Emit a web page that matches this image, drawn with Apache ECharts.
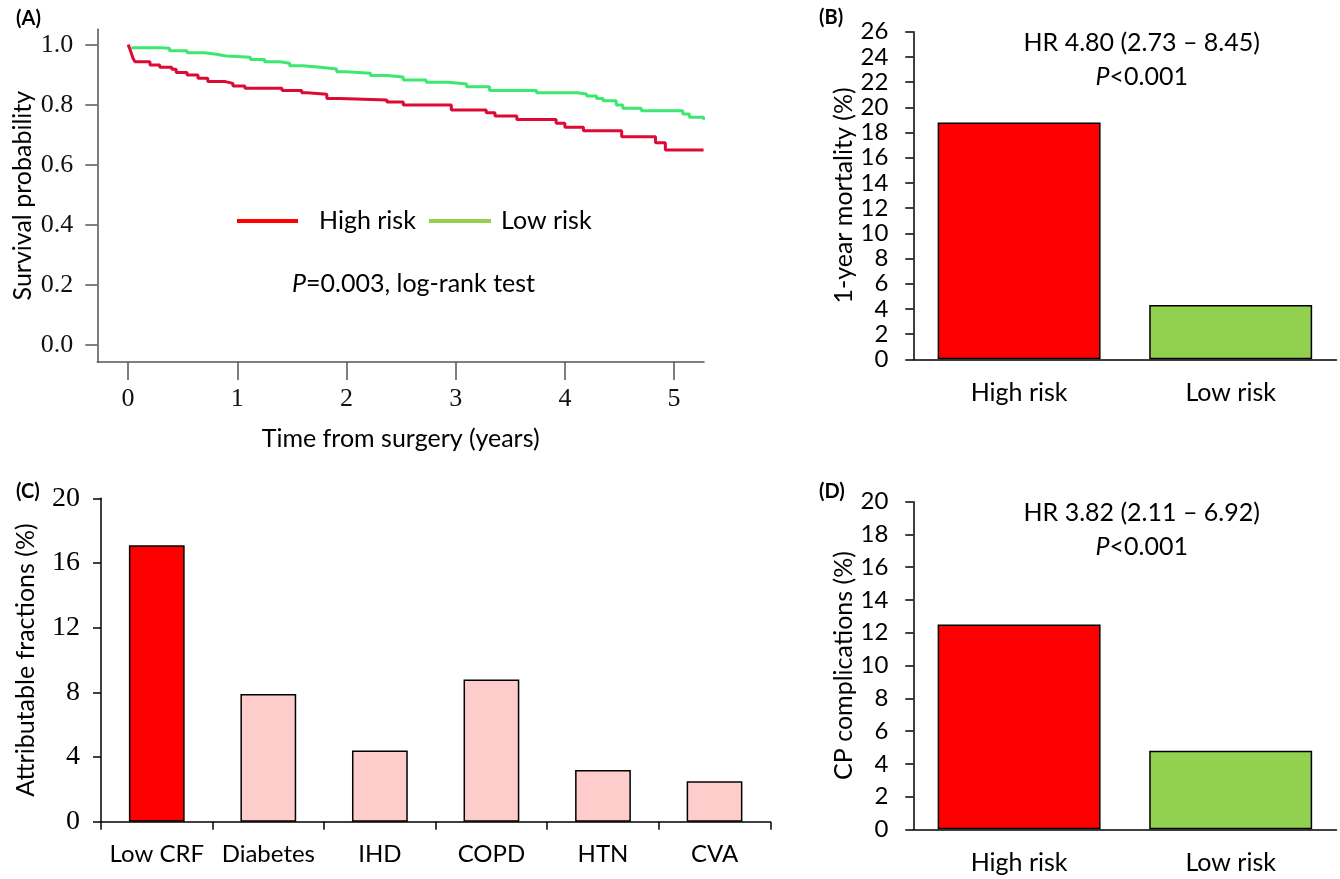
<!DOCTYPE html>
<html><head><meta charset="utf-8">
<script src="https://cdn.jsdelivr.net/npm/echarts@6/dist/echarts.min.js"></script>
<style>html,body{margin:0;padding:0;background:#fff}#c{width:1340px;height:879px}</style>
</head><body><div id="c"></div>
<script>
// ---- Panel A: Kaplan-Meier curves (time in years, survival probability) ----
const kmHighTime = [0, 0.017, 0.031, 0.045, 0.063, 0.20, 0.29, 0.40, 0.44, 0.54, 0.64, 0.73, 0.89, 0.96, 1.07, 1.41, 1.59, 1.64, 1.82, 1.94, 2.37, 2.52, 2.96, 3.28, 3.36, 3.56, 3.92, 4.00, 4.17, 4.52, 4.83, 4.92, 5.27];
const kmHighSurv = [1.0, 0.985, 0.970, 0.955, 0.943, 0.932, 0.925, 0.918, 0.907, 0.899, 0.888, 0.877, 0.871, 0.862, 0.855, 0.847, 0.840, 0.835, 0.821, 0.816, 0.809, 0.799, 0.782, 0.773, 0.762, 0.751, 0.738, 0.725, 0.713, 0.693, 0.673, 0.649, 0.649];
const kmLowTime = [0.03, 0.29, 0.38, 0.54, 0.70, 0.81, 0.90, 1.12, 1.25, 1.39, 1.48, 1.60, 1.76, 1.91, 2.00, 2.22, 2.37, 2.52, 2.73, 2.93, 3.10, 3.31, 3.74, 4.11, 4.20, 4.29, 4.35, 4.47, 4.53, 4.70, 5.08, 5.14, 5.27];
const kmLowSurv = [0.990, 0.988, 0.980, 0.973, 0.968, 0.962, 0.958, 0.951, 0.943, 0.938, 0.930, 0.925, 0.919, 0.910, 0.905, 0.897, 0.892, 0.882, 0.875, 0.869, 0.860, 0.847, 0.840, 0.836, 0.829, 0.821, 0.813, 0.799, 0.788, 0.780, 0.769, 0.758, 0.750];
const kmXTicks = [0, 1, 2, 3, 4, 5];
const kmYTicks = [0, 0.2, 0.4, 0.6, 0.8, 1.0];

// ---- Panels B & D ----
const riskGroups = ['High risk', 'Low risk'];
const mortality1y = [18.8, 4.3];
const cpComplications = [12.5, 4.8];

// ---- Panel C ----
const afCategories = ['Low CRF', 'Diabetes', 'IHD', 'COPD', 'HTN', 'CVA'];
const afValues = [17.1, 7.9, 4.4, 8.8, 3.2, 2.5];

const riskColors = ['#ff0000', '#92d050'];
const afColors = ['#ff0000', '#ffcccc', '#ffcccc', '#ffcccc', '#ffcccc', '#ffcccc'];

const SANS = 'Lato';
const SERIF = 'Liberation Serif';
const axisBlack = { show: true, onZero: false, lineStyle: { color: '#000', width: 1.5 } };
const tickBlack = { show: true, length: 8, lineStyle: { color: '#000', width: 1.5 } };

function barAxisY(grid, max, interval, name) {
  return {
    gridIndex: grid, type: 'value', min: 0, max: max, interval: interval,
    axisLine: axisBlack, axisTick: tickBlack, splitLine: { show: false },
    axisLabel: { fontFamily: SANS, fontSize: 24, color: '#000', margin: 25 },
    name: name, nameLocation: 'middle', nameGap: 57,
    nameTextStyle: { fontFamily: SANS, fontSize: 25, color: '#000' }
  };
}
function barAxisX(grid, cats) {
  return {
    gridIndex: grid, type: 'category', data: cats,
    axisLine: axisBlack, axisTick: { show: false },
    axisLabel: { interval: 0, fontFamily: SANS, fontSize: 25, color: '#000', margin: 21 }
  };
}
function hrText(x, y, hr, p) {
  return [
    { type: 'text', x: x, y: y, style: { text: hr, font: '25px Lato', fill: '#000', align: 'center', verticalAlign: 'middle' } },
    { type: 'text', x: x, y: y + 33.4, style: { text: '{i|P}' + p, font: '25px Lato', fill: '#000', align: 'center', verticalAlign: 'middle',
      rich: { i: { fontStyle: 'italic', fontFamily: SANS, fontSize: 25, fill: '#000' } } } }
  ];
}
function panelLabel(x, y, t) {
  return { type: 'text', x: x, y: y, style: { text: t, font: 'bold 20px Lato', fill: '#000', verticalAlign: 'middle' } };
}

const chart = echarts.init(document.getElementById('c'), null, { renderer: 'canvas' });
chart.setOption({
  animation: false,
  backgroundColor: '#fff',
  grid: [
    { left: 97.3, top: 29.3, width: 606.7, height: 332.7 },
    { left: 913.3, top: 31.7, width: 423.2, height: 327.6 },
    { left: 101, top: 498.3, width: 669.3, height: 323.4 },
    { left: 913.3, top: 501.7, width: 423.2, height: 327.6 }
  ],
  legend: [
    { data: [{ name: 'High risk', itemStyle: { color: '#ff0000' } }], left: 237, top: 206, padding: 0, icon: 'rect', itemWidth: 61, itemHeight: 4,
      textStyle: { fontFamily: SANS, fontSize: 25, color: '#000', lineHeight: 30, padding: [0, 0, 0, 16] }, selectedMode: false },
    { data: [{ name: 'Low risk', itemStyle: { color: '#92d050' } }], left: 429, top: 206, padding: 0, icon: 'rect', itemWidth: 62, itemHeight: 4,
      textStyle: { fontFamily: SANS, fontSize: 25, color: '#000', lineHeight: 30, padding: [0, 0, 0, 5] }, selectedMode: false }
  ],
  xAxis: [
    { gridIndex: 0, type: 'value', min: -0.282, max: 5.274,
      axisLine: { show: true, onZero: false, lineStyle: { color: '#555', width: 1.5 } },
      axisTick: { show: true, customValues: kmXTicks, length: 18, lineStyle: { color: '#555', width: 1.5 } },
      axisLabel: { customValues: kmXTicks, fontFamily: SERIF, fontSize: 26, color: '#111', margin: 24 },
      splitLine: { show: false },
      name: 'Time from surgery (years)', nameLocation: 'middle', nameGap: 64,
      nameTextStyle: { fontFamily: SANS, fontSize: 25, color: '#000' } },
    barAxisX(1, riskGroups),
    { gridIndex: 2, type: 'category', data: afCategories,
      axisLine: axisBlack, axisTick: { show: true, interval: 0, length: 8, lineStyle: { color: '#000', width: 1.5 } },
      axisLabel: { interval: 0, fontFamily: SANS, fontSize: 24, color: '#000', margin: 21 } },
    barAxisX(3, riskGroups)
  ],
  yAxis: [
    { gridIndex: 0, type: 'value', min: -0.0577, max: 1.0513,
      axisLine: { show: true, onZero: false, lineStyle: { color: '#555', width: 1.5 } },
      axisTick: { show: true, customValues: kmYTicks, length: 12, lineStyle: { color: '#555', width: 1.5 } },
      axisLabel: { customValues: kmYTicks, formatter: v => v.toFixed(1), fontFamily: SERIF, fontSize: 26, color: '#111', margin: 24 },
      splitLine: { show: false },
      name: 'Survival probability', nameLocation: 'middle', nameGap: 62,
      nameTextStyle: { fontFamily: SANS, fontSize: 25, color: '#000' } },
    barAxisY(1, 26, 2, '1-year mortality (%)'),
    { gridIndex: 2, type: 'value', min: 0, max: 20, interval: 4,
      axisLine: axisBlack, axisTick: tickBlack, splitLine: { show: false },
      axisLabel: { fontFamily: SERIF, fontSize: 28, color: '#000', margin: 21 },
      name: 'Attributable fractions (%)', nameLocation: 'middle', nameGap: 63,
      nameTextStyle: { fontFamily: SANS, fontSize: 25, color: '#000' } },
    barAxisY(3, 20, 2, 'CP complications (%)')
  ],
  series: [
    { name: 'Low risk', type: 'line', xAxisIndex: 0, yAxisIndex: 0, step: 'end', symbol: 'none',
      lineStyle: { color: '#3de870', width: 3 }, itemStyle: { color: '#3de870' },
      data: kmLowTime.map((t, i) => [t, kmLowSurv[i]]) },
    { name: 'High risk', type: 'line', xAxisIndex: 0, yAxisIndex: 0, step: 'end', symbol: 'none',
      lineStyle: { color: '#dc0a34', width: 3 }, itemStyle: { color: '#dc0a34' },
      data: kmHighTime.map((t, i) => [t, kmHighSurv[i]]) },
    { name: 'mortality', type: 'bar', xAxisIndex: 1, yAxisIndex: 1, barCategoryGap: '23%',
      itemStyle: { borderColor: '#000', borderWidth: 1.5 },
      data: mortality1y.map((v, i) => ({ value: v, itemStyle: { color: riskColors[i] } })) },
    { name: 'af', type: 'bar', xAxisIndex: 2, yAxisIndex: 2, barCategoryGap: '50%',
      itemStyle: { borderColor: '#000', borderWidth: 1.5 },
      data: afValues.map((v, i) => ({ value: v, itemStyle: { color: afColors[i] } })) },
    { name: 'cp', type: 'bar', xAxisIndex: 3, yAxisIndex: 3, barCategoryGap: '23%',
      itemStyle: { borderColor: '#000', borderWidth: 1.5 },
      data: cpComplications.map((v, i) => ({ value: v, itemStyle: { color: riskColors[i] } })) }
  ],
  graphic: [
    panelLabel(16, 19, '(A)'),
    panelLabel(819, 18, '(B)'),
    panelLabel(16, 492, '(C)'),
    panelLabel(819, 492, '(D)'),
    { type: 'text', x: 413.5, y: 284, style: { text: '{i|P}=0.003, log-rank test', font: '25px Lato', fill: '#000', align: 'center', verticalAlign: 'middle',
      rich: { i: { fontStyle: 'italic', fontFamily: SANS, fontSize: 25, fill: '#000' } } } },
    ...hrText(1141.7, 43.3, 'HR 4.80 (2.73 \u2013 8.45)', '<0.001'),
    ...hrText(1141.7, 513.3, 'HR 3.82 (2.11 \u2013 6.92)', '<0.001')
  ]
});
</script>
</body></html>
